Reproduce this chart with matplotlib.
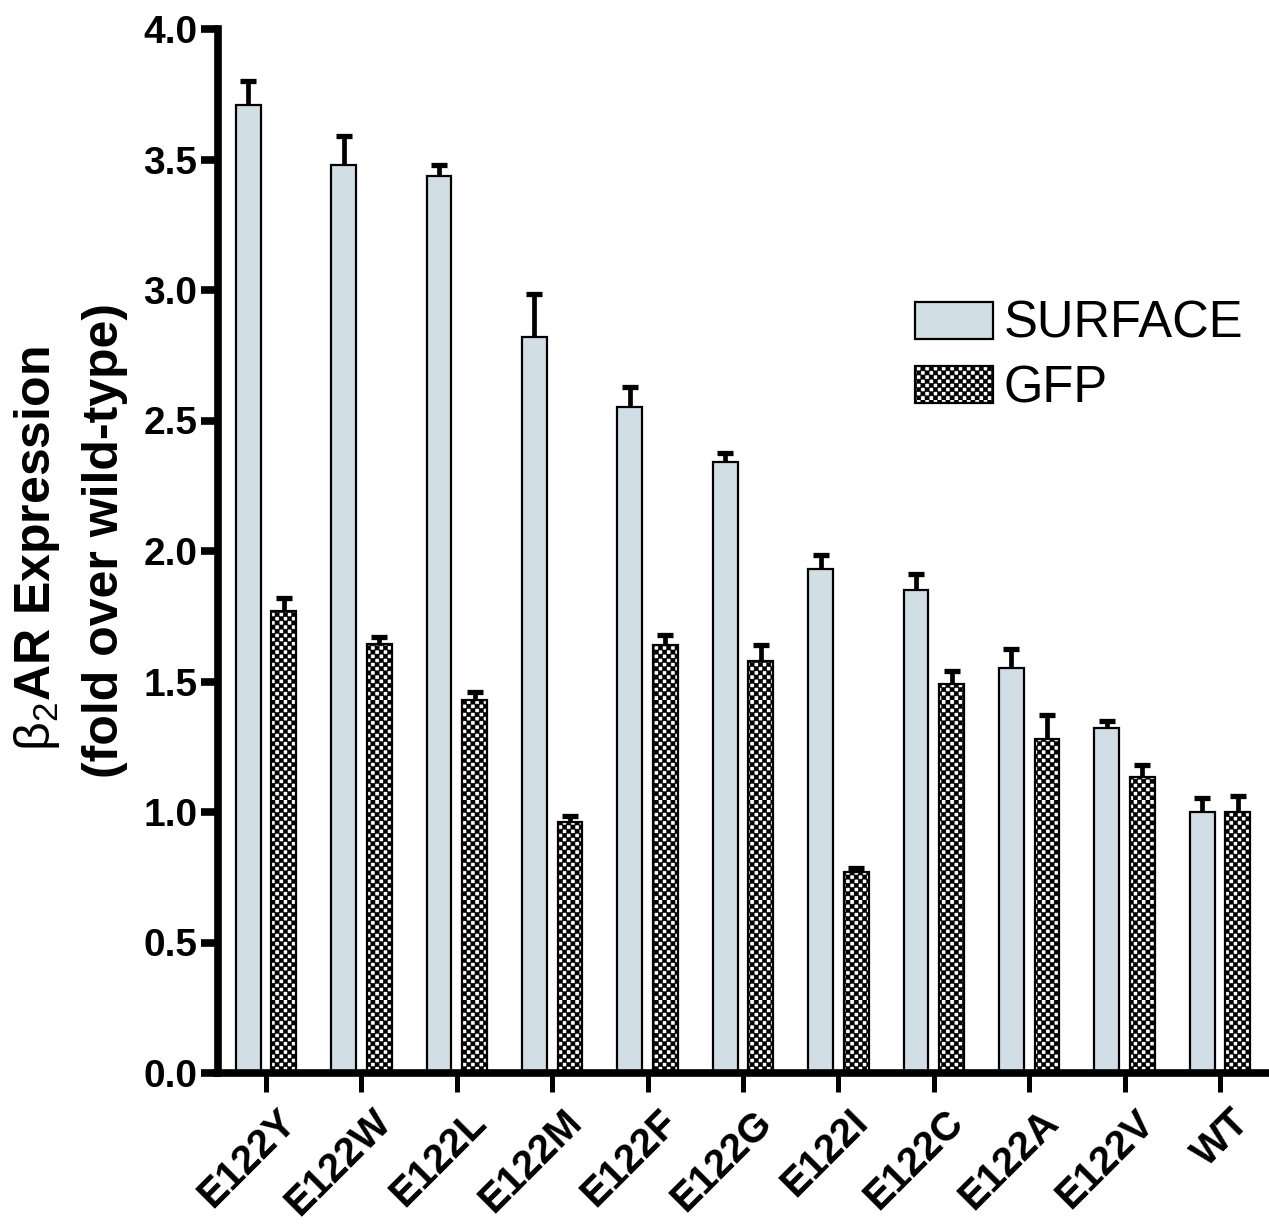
import warnings
warnings.filterwarnings("ignore")
import numpy as np
import matplotlib
matplotlib.use("Agg")
import matplotlib.pyplot as plt
import matplotlib.hatch as mhatch
import matplotlib.transforms as mtrans
from matplotlib.path import Path

# ---------------- data ----------------
categories = ["E122Y", "E122W", "E122L", "E122M", "E122F", "E122G",
              "E122I", "E122C", "E122A", "E122V", "WT"]
surface = [3.71, 3.48, 3.435, 2.82, 2.55, 2.34, 1.93, 1.85, 1.55, 1.32, 1.00]
surface_err = [0.09, 0.11, 0.045, 0.165, 0.08, 0.035, 0.055, 0.06, 0.075, 0.03, 0.055]
gfp = [1.77, 1.645, 1.43, 0.96, 1.64, 1.58, 0.77, 1.49, 1.28, 1.135, 1.00]
gfp_err = [0.05, 0.025, 0.03, 0.025, 0.04, 0.06, 0.015, 0.05, 0.09, 0.045, 0.06]
series_labels = ["SURFACE", "GFP"]
yticks = [0.0, 0.5, 1.0, 1.5, 2.0, 2.5, 3.0, 3.5, 4.0]


# ------------- checkerboard hatch -------------
class CheckerHatch(mhatch.HatchPatternBase):
    def __init__(self, hatch, density):
        self.n = 4 * hatch.count('c') * density
        if self.n % 2:
            self.n += 1
        self.num_vertices = (self.n * self.n // 2) * 5 if self.n else 0

    def set_vertices_and_codes(self, vertices, codes):
        n = self.n
        s = 1.0 / n
        k = 0
        for i in range(n):
            for j in range(n):
                if (i + j) % 2 == 0:
                    x0, y0 = i * s, j * s
                    vertices[k:k + 5] = [(x0, y0), (x0 + s, y0), (x0 + s, y0 + s),
                                         (x0, y0 + s), (x0, y0)]
                    codes[k:k + 5] = [Path.MOVETO, Path.LINETO, Path.LINETO,
                                      Path.LINETO, Path.CLOSEPOLY]
                    k += 5


mhatch._hatch_types.append(CheckerHatch)
mhatch._validate_hatch_pattern = lambda h: None

plt.rcParams['font.family'] = ['Liberation Sans', 'DejaVu Sans']
plt.rcParams['mathtext.fontset'] = 'custom'
plt.rcParams['mathtext.rm'] = 'Liberation Sans'
plt.rcParams['mathtext.it'] = 'Liberation Sans:italic'
plt.rcParams['mathtext.bf'] = 'Liberation Sans:bold'
plt.rcParams['hatch.linewidth'] = 0.4

W, H = 1269, 1226
fig = plt.figure(figsize=(W / 100, H / 100), dpi=100)
ax = fig.add_axes([217.5 / W, 1 - 1073 / H, 1 - 217.5 / W, (1073 - 29) / H])

x = np.arange(len(categories))
off = 0.186
bw = 0.26
surf_color = '#d2dee6'

ax.bar(x - off, surface, width=bw, color=surf_color, edgecolor='black',
       linewidth=1.6, label=series_labels[0], zorder=2)
ax.bar(x + off, gfp, width=bw, color='white', edgecolor='black',
       linewidth=1.6, hatch='c', label=series_labels[1], zorder=2)

for xs, vals, errs in [(x - off, surface, surface_err), (x + off, gfp, gfp_err)]:
    vals = np.array(vals)
    errs = np.array(errs)
    ax.errorbar(xs, vals, yerr=[np.zeros_like(errs), errs], fmt='none',
                ecolor='black', elinewidth=3.4, capsize=0, zorder=3)
    ax.plot(xs, vals + errs, ls='none', marker='_', ms=12, mew=3.8,
            color='black', zorder=3)

ax.set_xlim(-0.508, 10.514)
ax.set_ylim(0, 4.0)
ax.set_yticks(yticks)
ax.set_yticklabels([f"{v:.1f}" for v in yticks], fontsize=28, fontweight='bold')
ax.set_xticks(x)
ax.set_xticklabels(categories, fontsize=29, fontweight='bold', rotation=45,
                   ha='right', va='top', rotation_mode='anchor')

for s in ['top', 'right']:
    ax.spines[s].set_visible(False)
for s in ['left', 'bottom']:
    ax.spines[s].set_linewidth(5.5)
ax.spines['left'].set_capstyle('projecting')
ax.tick_params(axis='y', length=12.5, width=5.5, pad=2, direction='out')
ax.tick_params(axis='x', length=13.5, width=3.6, pad=8, direction='out')

for lab in ax.get_xticklabels():
    lab.set_transform(lab.get_transform() +
                      mtrans.ScaledTranslation(10 / 100, 0, fig.dpi_scale_trans))

# y label (two lines)
fig.text(50 / W, 1 - 549 / H, r'$\mathrm{\beta}_\mathrm{2}$AR Expression', rotation=90,
         ha='center', va='baseline', rotation_mode='anchor', fontsize=36, fontweight='bold')
fig.text(118 / W, 1 - 540 / H, '(fold over wild-type)', rotation=90,
         ha='center', va='baseline', rotation_mode='anchor', fontsize=36, fontweight='bold')

ax.legend(loc='upper left', bbox_to_anchor=(915 / W, 1 - 300 / H),
          bbox_transform=fig.transFigure, frameon=False, fontsize=36.5,
          handlelength=1.54, handleheight=0.76, handletextpad=0.2,
          labelspacing=0.3, borderpad=0, borderaxespad=0)

fig.savefig('out.png', dpi=100)
